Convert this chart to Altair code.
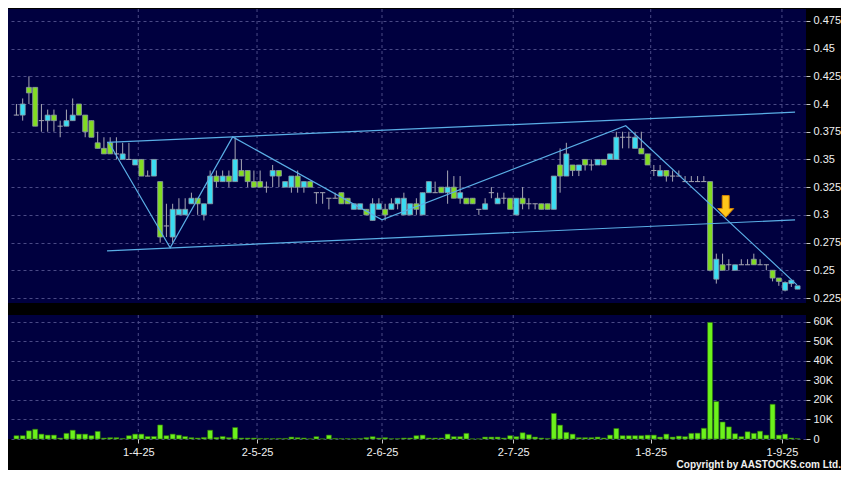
import altair as alt
import pandas as pd

# ---------------- data ----------------
# trading-day index 0..125 (4 Mar 2025 .. 3 Sep 2025)
opens = [0.39, 0.39, 0.415, 0.415, 0.385, 0.385, 0.39, 0.38, 0.38, 0.385,
         0.40, 0.39, 0.385, 0.365, 0.36, 0.365, 0.355, 0.35, 0.35, 0.345,
         0.35, 0.335, 0.335, 0.33, 0.29, 0.28, 0.30, 0.30, 0.31, 0.315,
         0.30, 0.31, 0.335, 0.33, 0.335, 0.33, 0.34, 0.34, 0.33, 0.33,
         0.325, 0.335, 0.34, 0.325, 0.325, 0.335, 0.325, 0.33, 0.32, 0.32,
         0.315, 0.315, 0.32, 0.315, 0.305, 0.305, 0.305, 0.295, 0.305, 0.305,
         0.305, 0.31, 0.30, 0.30, 0.31, 0.30, 0.32, 0.32, 0.325, 0.32,
         0.325, 0.315, 0.315, 0.315, 0.305, 0.305, 0.32, 0.31, 0.315, 0.315,
         0.30, 0.315, 0.31, 0.31, 0.31, 0.31, 0.305, 0.345, 0.335, 0.345,
         0.34, 0.35, 0.345, 0.345, 0.35, 0.35, 0.35, 0.37, 0.37, 0.36,
         0.36, 0.355, 0.34, 0.335, 0.34, 0.335, 0.335, 0.33, 0.33, 0.33,
         0.33, 0.33, 0.242, 0.255, 0.255, 0.25, 0.255, 0.255, 0.26, 0.255,
         0.255, 0.25, 0.243, 0.232, 0.238, 0.233]
highs = [0.40, 0.405, 0.425, 0.415, 0.40, 0.395, 0.395, 0.385, 0.395, 0.405,
         0.40, 0.39, 0.385, 0.375, 0.37, 0.37, 0.37, 0.365, 0.365, 0.35,
         0.35, 0.34, 0.35, 0.33, 0.31, 0.31, 0.315, 0.315, 0.32, 0.315,
         0.31, 0.34, 0.34, 0.34, 0.34, 0.37, 0.35, 0.34, 0.34, 0.34,
         0.33, 0.345, 0.34, 0.33, 0.335, 0.34, 0.33, 0.33, 0.32, 0.32,
         0.315, 0.32, 0.32, 0.315, 0.31, 0.31, 0.305, 0.315, 0.315, 0.31,
         0.315, 0.315, 0.32, 0.31, 0.315, 0.32, 0.33, 0.33, 0.325, 0.34,
         0.335, 0.335, 0.315, 0.315, 0.305, 0.315, 0.325, 0.32, 0.32, 0.315,
         0.315, 0.325, 0.315, 0.31, 0.31, 0.31, 0.335, 0.36, 0.365, 0.345,
         0.345, 0.35, 0.35, 0.35, 0.35, 0.355, 0.375, 0.375, 0.375, 0.375,
         0.375, 0.355, 0.345, 0.345, 0.34, 0.34, 0.34, 0.335, 0.335, 0.335,
         0.335, 0.33, 0.265, 0.265, 0.26, 0.255, 0.26, 0.26, 0.265, 0.26,
         0.255, 0.25, 0.243, 0.24, 0.241, 0.236]
lows = [0.39, 0.385, 0.40, 0.38, 0.375, 0.375, 0.375, 0.37, 0.38, 0.385,
        0.39, 0.37, 0.37, 0.36, 0.355, 0.355, 0.35, 0.35, 0.35, 0.345,
        0.335, 0.335, 0.335, 0.275, 0.28, 0.275, 0.30, 0.30, 0.31, 0.30,
        0.295, 0.31, 0.325, 0.33, 0.325, 0.33, 0.335, 0.325, 0.325, 0.325,
        0.32, 0.325, 0.325, 0.325, 0.32, 0.32, 0.32, 0.325, 0.31, 0.31,
        0.305, 0.315, 0.31, 0.31, 0.305, 0.305, 0.30, 0.295, 0.305, 0.295,
        0.305, 0.305, 0.30, 0.30, 0.30, 0.30, 0.32, 0.32, 0.32, 0.31,
        0.315, 0.31, 0.31, 0.31, 0.30, 0.305, 0.315, 0.31, 0.31, 0.305,
        0.30, 0.305, 0.305, 0.305, 0.305, 0.305, 0.305, 0.32, 0.335, 0.335,
        0.335, 0.34, 0.34, 0.345, 0.345, 0.35, 0.35, 0.36, 0.36, 0.36,
        0.355, 0.345, 0.335, 0.335, 0.33, 0.33, 0.335, 0.33, 0.33, 0.33,
        0.33, 0.249, 0.238, 0.25, 0.25, 0.25, 0.255, 0.255, 0.255, 0.255,
        0.25, 0.24, 0.236, 0.231, 0.235, 0.233]
closes = [0.39, 0.40, 0.41, 0.38, 0.385, 0.39, 0.385, 0.38, 0.385, 0.39,
          0.39, 0.375, 0.37, 0.36, 0.355, 0.355, 0.355, 0.355, 0.35, 0.35,
          0.335, 0.335, 0.35, 0.28, 0.29, 0.305, 0.305, 0.305, 0.315, 0.31,
          0.31, 0.335, 0.33, 0.335, 0.33, 0.35, 0.335, 0.33, 0.325, 0.325,
          0.325, 0.34, 0.335, 0.33, 0.335, 0.325, 0.33, 0.325, 0.32, 0.32,
          0.315, 0.315, 0.31, 0.31, 0.31, 0.31, 0.30, 0.31, 0.31, 0.30,
          0.31, 0.315, 0.315, 0.31, 0.305, 0.32, 0.33, 0.32, 0.32, 0.325,
          0.315, 0.32, 0.31, 0.31, 0.305, 0.31, 0.32, 0.315, 0.315, 0.305,
          0.315, 0.31, 0.31, 0.31, 0.305, 0.305, 0.335, 0.335, 0.355, 0.34,
          0.345, 0.345, 0.345, 0.35, 0.345, 0.355, 0.37, 0.37, 0.37, 0.37,
          0.355, 0.345, 0.34, 0.34, 0.335, 0.335, 0.335, 0.33, 0.33, 0.33,
          0.33, 0.25, 0.26, 0.25, 0.255, 0.255, 0.255, 0.255, 0.255, 0.255,
          0.255, 0.243, 0.24, 0.239, 0.241, 0.236]
volumes_k = [1.7, 1.7, 4.2, 5.0, 2.5, 2.0, 2.0, 0.5, 2.9, 4.5,
             2.5, 2.5, 1.7, 3.9, 0.5, 0.7, 0.7, 0.3, 1.7, 2.5,
             2.5, 1.3, 1.3, 7.2, 1.7, 2.5, 2.0, 1.3, 0.7, 0.5,
             0.8, 4.5, 0.8, 1.3, 0.7, 5.9, 0.5, 0.5, 0.5, 0.3,
             0.3, 0.2, 0.3, 0.3, 1.0, 0.7, 0.5, 0.1, 1.2, 0.1,
             2.0, 0.3, 0.2, 0.2, 0.2, 0.3, 0.7, 1.2, 0.5, 0.7,
             0.2, 0.2, 0.5, 0.5, 1.7, 2.0, 0.5, 0.5, 0.5, 2.5,
             1.2, 1.2, 2.9, 0.1, 0.1, 1.0, 1.0, 1.0, 0.5, 1.7,
             1.2, 3.2, 2.2, 1.0, 0.5, 0.3, 13.1, 7.1, 3.4, 2.5,
             0.7, 0.7, 0.7, 1.0, 0.5, 2.0, 5.4, 1.7, 1.7, 1.7,
             1.7, 2.0, 2.0, 1.0, 2.5, 1.0, 1.5, 1.2, 2.9, 3.0,
             5.5, 59.7, 19.2, 8.7, 6.2, 2.7, 1.2, 3.7, 2.9, 4.0,
             2.0, 17.8, 2.0, 2.5, 0.5, 0.2]

# month boundaries (between trading days) and their labels
month_pos = [19.5, 38.5, 58.5, 79.5, 101.5, 122.5]
month_labels = ["1-4-25", "2-5-25", "2-6-25", "2-7-25", "1-8-25", "1-9-25"]

price_ticks = [0.225, 0.25, 0.275, 0.3, 0.325, 0.35, 0.375, 0.4, 0.425, 0.45, 0.475]
volume_ticks = [0, 10000, 20000, 30000, 40000, 50000, 60000]

# drawn trend lines: (day index, price)
line_names = ["upper"] * 2 + ["lower"] * 2 + ["zigzag"] * 6
line_days = [14.5, 124.6, 14.5, 124.6, 14.8, 24.6, 34.6, 58.5, 97.5, 124.9]
line_prices = [0.3654, 0.3926, 0.2676, 0.2955, 0.3650, 0.2703, 0.3703, 0.2955, 0.3804, 0.2369]

arrow_day = [113.5]
arrow_price = [0.3076]

copyright_text = ["Copyright by AASTOCKS.com Ltd."]

# ---------------- styling ----------------
BG = "#000000"
PANEL = "#00003F"
GRID = "#4A4A86"
WICK = "#A8A8B4"
CYAN = "#3ADCF2"
GREEN = "#82DC22"
BODY_STROKE = "#8E9AA4"
VOL_GREEN = "#6CF21C"
LINE_C = "#5AAEE6"
TXT = "#F0F0F0"
FONT = "Liberation Sans"

W = 798
H_PRICE = 294
H_VOL = 124

df = pd.DataFrame({
    "k": list(range(len(opens))),
    "open": opens, "high": highs, "low": lows, "close": closes,
    "vol": [v * 1000 for v in volumes_k],
})
months = pd.DataFrame({"b": month_pos, "lab": month_labels})
lines = pd.DataFrame({"line": line_names, "k": line_days, "p": line_prices,
                      "o": list(range(len(line_days)))})
arrow = pd.DataFrame({"k": arrow_day, "p": arrow_price})
cr = pd.DataFrame({"t": copyright_text})

xs = alt.Scale(domain=[-0.55, 125.55], nice=False, zero=False)
ps = alt.Scale(domain=[0.2205, 0.4857], nice=False, zero=False)
vs = alt.Scale(domain=[0, 63500], nice=False, zero=True)

price_axis = alt.Axis(orient="right", values=price_ticks, format=".3~f", title=None,
                      grid=True, gridColor=GRID, gridDash=[3, 3], gridWidth=1,
                      domain=False, tickSize=4, tickColor="#C8C8C8",
                      labelColor=TXT, labelFont=FONT, labelFontSize=11, labelPadding=3)
vol_axis = alt.Axis(orient="right", values=volume_ticks, title=None,
                    labelExpr="datum.value == 0 ? '0' : (datum.value / 1000) + 'K'",
                    grid=True, gridColor=GRID, gridDash=[3, 3], gridWidth=1,
                    domain=False, tickSize=4, tickColor="#C8C8C8",
                    labelColor=TXT, labelFont=FONT, labelFontSize=11, labelPadding=3)
label_expr = " : ".join(
    f"datum.value == {p} ? '{l}'" for p, l in zip(month_pos, month_labels)) + " : ''"
x_axis = alt.Axis(values=month_pos, labelExpr=label_expr, title=None, grid=False,
                  domain=False, tickSize=4, tickColor="#C8C8C8", labelColor=TXT,
                  labelFont=FONT, labelFontSize=11, labelPadding=3)

# ---------------- price panel ----------------
vgrid_top = alt.Chart(months).mark_rule(color=GRID, strokeDash=[3, 3], strokeWidth=1).encode(
    x=alt.X("b:Q", scale=xs, axis=None))

base = alt.Chart(df)
wicks = base.mark_rule(color=WICK, strokeWidth=1).encode(
    x=alt.X("k:Q", scale=xs, axis=None),
    y=alt.Y("low:Q", scale=ps, axis=price_axis),
    y2="high:Q")
bodies = base.transform_filter("datum.open != datum.close").transform_calculate(
    lo="min(datum.open, datum.close)", hi="max(datum.open, datum.close)",
    dir="datum.close > datum.open ? 'up' : 'down'"
).mark_bar(size=5, stroke=BODY_STROKE, strokeWidth=0.8).encode(
    x=alt.X("k:Q", scale=xs, axis=None),
    y=alt.Y("lo:Q", scale=ps, axis=price_axis),
    y2="hi:Q",
    color=alt.Color("dir:N", scale=alt.Scale(domain=["up", "down"], range=[CYAN, GREEN]),
                    legend=None))
dojis = base.transform_filter("datum.open == datum.close").transform_calculate(
    k0="datum.k - 0.42", k1="datum.k + 0.42"
).mark_rule(color=WICK, strokeWidth=1).encode(
    x=alt.X("k0:Q", scale=xs, axis=None), x2="k1:Q",
    y=alt.Y("open:Q", scale=ps, axis=price_axis))
trend = alt.Chart(lines).mark_line(color=LINE_C, strokeWidth=1.2, clip=True).encode(
    x=alt.X("k:Q", scale=xs, axis=None),
    y=alt.Y("p:Q", scale=ps, axis=price_axis),
    detail="line:N", order="o:Q")
arrow_mark = alt.Chart(arrow).mark_point(
    shape="M-0.32,-1L0.32,-1L0.32,0.2L0.74,0.2L0,1L-0.74,0.2L-0.32,0.2Z",
    filled=True, fill="#FFC61A", stroke="#D88400", strokeWidth=1, size=470, opacity=1
).encode(x=alt.X("k:Q", scale=xs, axis=None),
         y=alt.Y("p:Q", scale=ps, axis=price_axis))

price_chart = alt.layer(vgrid_top, wicks, bodies, dojis, trend, arrow_mark).properties(
    width=W, height=H_PRICE)

# ---------------- volume panel ----------------
vgrid_bot = alt.Chart(months).mark_rule(color=GRID, strokeDash=[3, 3], strokeWidth=1).encode(
    x=alt.X("b:Q", scale=xs, axis=x_axis))
vbars = alt.Chart(df).mark_bar(size=5, color=VOL_GREEN, stroke="#2C6E0C", strokeWidth=0.6).encode(
    x=alt.X("k:Q", scale=xs, axis=x_axis),
    y=alt.Y("vol:Q", scale=vs, axis=vol_axis))
cr_text = alt.Chart(cr).mark_text(align="right", baseline="alphabetic", font=FONT,
                                  fontSize=10, fontWeight="bold", color=TXT).encode(
    text="t:N", x=alt.value(W + 35), y=alt.value(H_VOL + 29))

vol_chart = alt.layer(vgrid_bot, vbars, cr_text).properties(width=W, height=H_VOL)

chart = alt.vconcat(price_chart, vol_chart, spacing=12, bounds="flush").properties(
    padding=0, background=BG
).configure_view(fill=PANEL, stroke=None)

chart.save("out.html", embed_options={"renderer": "svg", "actions": False})
